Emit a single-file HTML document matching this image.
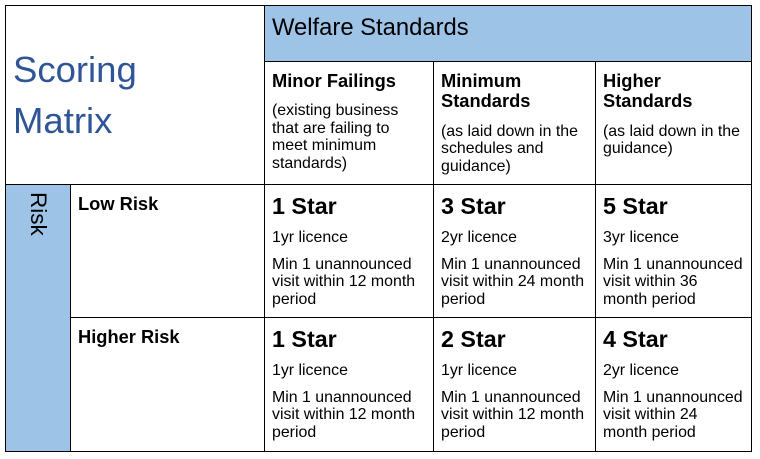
<!DOCTYPE html>
<html><head><meta charset="utf-8"><style>
html,body{margin:0;padding:0;background:#fff;}
body{width:760px;height:459px;position:relative;overflow:hidden;font-family:"Liberation Sans",Arial,sans-serif;color:#000;}
.a{position:absolute;white-space:nowrap;}
.l{position:absolute;background:#000;}
.fill{position:absolute;background:#9DC3E6;}
.h{font-weight:bold;font-size:18.3px;line-height:19.4px;}
.s{font-size:15.9px;line-height:17.5px;}
.st{font-weight:bold;font-size:23.3px;line-height:26px;}
</style></head><body>
<div class="fill" style="left:264px;top:5px;width:487px;height:56px;"></div>
<div class="fill" style="left:5px;top:184px;width:65px;height:267px;"></div>

<div class="l" style="left:5px;top:5px;width:747px;height:1px;"></div>
<div class="l" style="left:5px;top:451px;width:747px;height:1px;"></div>
<div class="l" style="left:5px;top:5px;width:1px;height:447px;"></div>
<div class="l" style="left:751px;top:5px;width:1px;height:447px;"></div>
<div class="l" style="left:264px;top:5px;width:1px;height:447px;"></div>
<div class="l" style="left:70px;top:184px;width:1px;height:267px;"></div>
<div class="l" style="left:264px;top:61px;width:488px;height:1px;"></div>
<div class="l" style="left:433px;top:61px;width:1px;height:391px;"></div>
<div class="l" style="left:595px;top:61px;width:1px;height:391px;"></div>
<div class="l" style="left:5px;top:184px;width:747px;height:1px;"></div>
<div class="l" style="left:70px;top:317px;width:682px;height:1px;"></div>

<div class="a" style="left:13px;top:43.5px;font-size:36.5px;line-height:51px;color:#2F5597;">Scoring<br>Matrix</div>
<div class="a" style="left:272px;top:15.3px;font-size:23.8px;line-height:26px;">Welfare Standards</div>

<div class="a h" style="left:272px;top:71.4px;">Minor Failings</div>
<div class="a h" style="left:441px;top:71.4px;">Minimum<br>Standards</div>
<div class="a h" style="left:603px;top:71.4px;">Higher<br>Standards</div>

<div class="a s" style="left:272px;top:102.3px;">(existing business<br>that are failing to<br>meet minimum<br>standards)</div>
<div class="a s" style="left:441px;top:122.5px;">(as laid down in the<br>schedules and<br>guidance)</div>
<div class="a s" style="left:603px;top:122.5px;">(as laid down in the<br>guidance)</div>

<div class="a" style="left:50.5px;top:191.5px;font-size:22.5px;line-height:26px;transform:rotate(90deg);transform-origin:0 0;">Risk</div>

<div class="a h" style="left:78px;top:194px;">Low Risk</div>
<div class="a h" style="left:78px;top:327.4px;">Higher Risk</div>

<!-- Row 1 -->
<div class="a st" style="left:272px;top:193px;">1 Star</div>
<div class="a s" style="left:272px;top:228.8px;">1yr licence</div>
<div class="a s" style="left:272px;top:255.8px;">Min 1 unannounced<br>visit within 12 month<br>period</div>

<div class="a st" style="left:441px;top:193px;">3 Star</div>
<div class="a s" style="left:441px;top:228.8px;">2yr licence</div>
<div class="a s" style="left:441px;top:255.8px;">Min 1 unannounced<br>visit within 24 month<br>period</div>

<div class="a st" style="left:603px;top:193px;">5 Star</div>
<div class="a s" style="left:603px;top:228.8px;">3yr licence</div>
<div class="a s" style="left:603px;top:255.8px;">Min 1 unannounced<br>visit within 36<br>month period</div>

<!-- Row 2 -->
<div class="a st" style="left:272px;top:326px;">1 Star</div>
<div class="a s" style="left:272px;top:361.8px;">1yr licence</div>
<div class="a s" style="left:272px;top:388.8px;">Min 1 unannounced<br>visit within 12 month<br>period</div>

<div class="a st" style="left:441px;top:326px;">2 Star</div>
<div class="a s" style="left:441px;top:361.8px;">1yr licence</div>
<div class="a s" style="left:441px;top:388.8px;">Min 1 unannounced<br>visit within 12 month<br>period</div>

<div class="a st" style="left:603px;top:326px;">4 Star</div>
<div class="a s" style="left:603px;top:361.8px;">2yr licence</div>
<div class="a s" style="left:603px;top:388.8px;">Min 1 unannounced<br>visit within 24<br>month period</div>
</body></html>
